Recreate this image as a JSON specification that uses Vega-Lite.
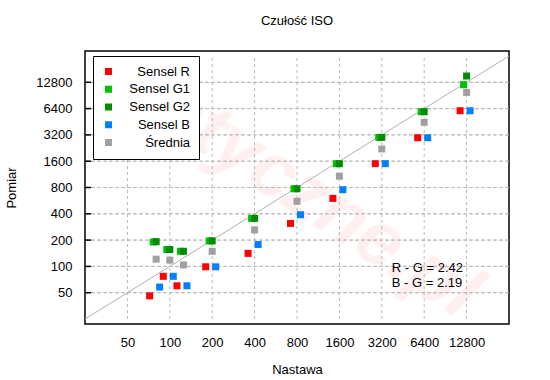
{
  "$schema": "https://vega.github.io/schema/vega-lite/v6.json",
  "width": 424,
  "height": 273,
  "autosize": "none",
  "padding": {"left": 85, "top": 51, "right": 41, "bottom": 56},
  "background": "white",
  "title": {"text": "Czułość ISO", "font": "Liberation Sans", "fontSize": 13, "fontWeight": "normal", "color": "black", "offset": 14},
  "config": {
    "view": {"stroke": "black", "strokeWidth": 1.5},
    "font": "Liberation Sans"
  },
  "resolve": {"scale": {"x": "independent"}, "axis": {"x": "independent"}},
  "datasets": {
    "pts": [
      {"iso": 80, "val": 46, "s": "Sensel R"},
      {"iso": 100, "val": 77, "s": "Sensel R"},
      {"iso": 125, "val": 60, "s": "Sensel R"},
      {"iso": 200, "val": 99, "s": "Sensel R"},
      {"iso": 400, "val": 141, "s": "Sensel R"},
      {"iso": 800, "val": 310, "s": "Sensel R"},
      {"iso": 1600, "val": 600, "s": "Sensel R"},
      {"iso": 3200, "val": 1500, "s": "Sensel R"},
      {"iso": 6400, "val": 2970, "s": "Sensel R"},
      {"iso": 12800, "val": 6050, "s": "Sensel R"},
      {"iso": 80, "val": 190, "s": "Sensel G1"},
      {"iso": 100, "val": 156, "s": "Sensel G1"},
      {"iso": 125, "val": 149, "s": "Sensel G1"},
      {"iso": 200, "val": 196, "s": "Sensel G1"},
      {"iso": 400, "val": 355, "s": "Sensel G1"},
      {"iso": 800, "val": 774, "s": "Sensel G1"},
      {"iso": 1600, "val": 1498, "s": "Sensel G1"},
      {"iso": 3200, "val": 2996, "s": "Sensel G1"},
      {"iso": 6400, "val": 5900, "s": "Sensel G1"},
      {"iso": 12800, "val": 12015, "s": "Sensel G1"},
      {"iso": 80, "val": 192, "s": "Sensel G2"},
      {"iso": 100, "val": 156, "s": "Sensel G2"},
      {"iso": 125, "val": 149, "s": "Sensel G2"},
      {"iso": 200, "val": 196, "s": "Sensel G2"},
      {"iso": 400, "val": 355, "s": "Sensel G2"},
      {"iso": 800, "val": 774, "s": "Sensel G2"},
      {"iso": 1600, "val": 1498, "s": "Sensel G2"},
      {"iso": 3200, "val": 2996, "s": "Sensel G2"},
      {"iso": 6400, "val": 5900, "s": "Sensel G2"},
      {"iso": 12800, "val": 15100, "s": "Sensel G2"},
      {"iso": 80, "val": 58, "s": "Sensel B"},
      {"iso": 100, "val": 77, "s": "Sensel B"},
      {"iso": 125, "val": 60, "s": "Sensel B"},
      {"iso": 200, "val": 99, "s": "Sensel B"},
      {"iso": 400, "val": 178, "s": "Sensel B"},
      {"iso": 800, "val": 390, "s": "Sensel B"},
      {"iso": 1600, "val": 755, "s": "Sensel B"},
      {"iso": 3200, "val": 1500, "s": "Sensel B"},
      {"iso": 6400, "val": 2970, "s": "Sensel B"},
      {"iso": 12800, "val": 6050, "s": "Sensel B"},
      {"iso": 80, "val": 121, "s": "Średnia"},
      {"iso": 100, "val": 118, "s": "Średnia"},
      {"iso": 125, "val": 104, "s": "Średnia"},
      {"iso": 200, "val": 149, "s": "Średnia"},
      {"iso": 400, "val": 262, "s": "Średnia"},
      {"iso": 800, "val": 556, "s": "Średnia"},
      {"iso": 1600, "val": 1077, "s": "Średnia"},
      {"iso": 3200, "val": 2208, "s": "Średnia"},
      {"iso": 6400, "val": 4463, "s": "Średnia"},
      {"iso": 12800, "val": 9805, "s": "Średnia"}
    ],
    "diag": [{"iso": 25, "val": 25}, {"iso": 25600, "val": 25600}],
    "gridv": [
      {"g": "x50", "iso": 50, "val": 25}, {"g": "x50", "iso": 50, "val": 25600},
      {"g": "x100", "iso": 100, "val": 25}, {"g": "x100", "iso": 100, "val": 25600},
      {"g": "x200", "iso": 200, "val": 25}, {"g": "x200", "iso": 200, "val": 25600},
      {"g": "x400", "iso": 400, "val": 25}, {"g": "x400", "iso": 400, "val": 25600},
      {"g": "x800", "iso": 800, "val": 25}, {"g": "x800", "iso": 800, "val": 25600},
      {"g": "x1600", "iso": 1600, "val": 25}, {"g": "x1600", "iso": 1600, "val": 25600},
      {"g": "x3200", "iso": 3200, "val": 25}, {"g": "x3200", "iso": 3200, "val": 25600},
      {"g": "x6400", "iso": 6400, "val": 25}, {"g": "x6400", "iso": 6400, "val": 25600},
      {"g": "x12800", "iso": 12800, "val": 25}, {"g": "x12800", "iso": 12800, "val": 25600}
    ],
    "gridh": [
      {"g": "y50", "iso": 25, "val": 50}, {"g": "y50", "iso": 25600, "val": 50},
      {"g": "y100", "iso": 25, "val": 100}, {"g": "y100", "iso": 25600, "val": 100},
      {"g": "y200", "iso": 25, "val": 200}, {"g": "y200", "iso": 25600, "val": 200},
      {"g": "y400", "iso": 25, "val": 400}, {"g": "y400", "iso": 25600, "val": 400},
      {"g": "y800", "iso": 25, "val": 800}, {"g": "y800", "iso": 25600, "val": 800},
      {"g": "y1600", "iso": 25, "val": 1600}, {"g": "y1600", "iso": 25600, "val": 1600},
      {"g": "y3200", "iso": 25, "val": 3200}, {"g": "y3200", "iso": 25600, "val": 3200},
      {"g": "y6400", "iso": 25, "val": 6400}, {"g": "y6400", "iso": 25600, "val": 6400},
      {"g": "y12800", "iso": 25, "val": 12800}, {"g": "y12800", "iso": 25600, "val": 12800}
    ],
    "tx": [{"iso": 50}, {"iso": 100}, {"iso": 200}, {"iso": 400}, {"iso": 800}, {"iso": 1600}, {"iso": 3200}, {"iso": 6400}, {"iso": 12800}],
    "ty": [{"val": 50}, {"val": 100}, {"val": 200}, {"val": 400}, {"val": 800}, {"val": 1600}, {"val": 3200}, {"val": 6400}, {"val": 12800}],
    "notes": [
      {"iso": 3770, "val": 95, "txt": "R - G = 2.42"},
      {"iso": 3770, "val": 65, "txt": "B - G = 2.19"}
    ],
    "wm": [{"iso": 800, "val": 800, "txt": "optyczne.pl"}]
  },
  "encoding": {
    "y": {
      "field": "val", "type": "quantitative",
      "scale": {"type": "log", "base": 2, "domain": [25, 25600], "nice": false},
      "axis": {
        "values": [50, 100, 200, 400, 800, 1600, 3200, 6400, 12800], "format": "d", "title": "Pomiar",
        "grid": false, "ticks": false, "domain": false,
        "labelFont": "Liberation Sans", "labelFontSize": 13, "labelColor": "black", "labelPadding": 13, "labelOverlap": false,
        "titleFont": "Liberation Sans", "titleFontSize": 13, "titleFontWeight": "normal", "titleColor": "black", "titlePadding": 17
      }
    }
  },
  "layer": [
    {
      "data": {"name": "wm"},
      "mark": {"type": "text", "font": "Liberation Sans", "fontSize": 76, "fontWeight": "bold", "fontStyle": "italic", "color": "#ff0000", "opacity": 0.06, "angle": 33, "align": "center", "baseline": "middle"},
      "encoding": {
        "x": {"field": "iso", "type": "quantitative", "scale": {"type": "log", "base": 2, "domain": [25, 25600], "nice": false},
          "axis": {
            "values": [50, 100, 200, 400, 800, 1600, 3200, 6400, 12800], "format": "d", "title": "Nastawa",
            "domain": false, "grid": false, "ticks": false,
            "labelFont": "Liberation Sans", "labelFontSize": 13, "labelColor": "black", "labelPadding": 12, "labelOverlap": false, "labelFlush": false,
            "titleFont": "Liberation Sans", "titleFontSize": 13, "titleFontWeight": "normal", "titleColor": "black", "titlePadding": 14
          }
        },
        "text": {"field": "txt"}
      }
    },
    {
      "data": {"name": "gridv"},
      "mark": {"type": "line", "color": "#b8b8b8", "strokeWidth": 1, "strokeDash": [3, 3]},
      "encoding": {
        "x": {"field": "iso", "type": "quantitative", "scale": {"type": "log", "base": 2, "domain": [25, 25600], "nice": false}, "axis": null},
        "detail": {"field": "g", "type": "nominal"},
        "order": {"field": "val", "type": "quantitative"}
      }
    },
    {
      "data": {"name": "gridh"},
      "mark": {"type": "line", "color": "#b8b8b8", "strokeWidth": 1, "strokeDash": [3, 3]},
      "encoding": {
        "x": {"field": "iso", "type": "quantitative", "scale": {"type": "log", "base": 2, "domain": [25, 25600], "nice": false}, "axis": null},
        "detail": {"field": "g", "type": "nominal"}
      }
    },
    {
      "data": {"name": "ty"},
      "mark": {"type": "rule", "color": "#b8b8b8", "strokeWidth": 1, "strokeDash": [3, 3]},
      "encoding": {}
    },
    {
      "data": {"name": "tx"},
      "mark": {"type": "bar", "color": "black", "width": 1.5, "opacity": 1},
      "encoding": {
        "x": {"field": "iso", "type": "quantitative", "scale": {"type": "log", "base": 2, "domain": [25, 25600], "nice": false}, "axis": null},
        "y": {"datum": 25},
        "y2": {"datum": 28.4}
      }
    },
    {
      "data": {"name": "ty"},
      "mark": {"type": "bar", "color": "black", "height": 1.5, "orient": "horizontal", "opacity": 1},
      "encoding": {
        "x": {"datum": 25, "scale": {"type": "log", "base": 2, "domain": [25, 25600], "nice": false}, "axis": null},
        "x2": {"datum": 27.6}
      }
    },
    {
      "data": {"name": "diag"},
      "mark": {"type": "line", "color": "#b0b0b0", "strokeWidth": 1},
      "encoding": {
        "x": {"field": "iso", "type": "quantitative", "scale": {"type": "log", "base": 2, "domain": [25, 25600], "nice": false}, "axis": null}
      }
    },
    {
      "data": {"name": "pts"},
      "transform": [{"filter": "datum.s === 'Sensel R'"}],
      "mark": {"type": "square", "size": 49, "opacity": 1},
      "encoding": {
        "x": {"field": "iso", "type": "quantitative", "scale": {"type": "log", "base": 2, "domain": [27.8, 28473], "nice": false}, "axis": null},
        "color": {
          "field": "s", "type": "nominal",
          "scale": {"domain": ["Sensel R", "Sensel G1", "Sensel G2", "Sensel B", "Średnia"], "range": ["#ff0000", "#00c000", "#008c00", "#0080ff", "#a0a0a0"]},
          "legend": {
            "title": null, "orient": "none", "legendX": 8, "legendY": 5,
            "strokeColor": "black", "fillColor": "white", "padding": 9,
            "symbolType": "square", "symbolSize": 49, "symbolStrokeWidth": 0, "symbolOpacity": 1,
            "labelAlign": "right", "labelOffset": 75, "labelFont": "Liberation Sans", "labelFontSize": 13, "labelColor": "black",
            "rowPadding": 3.75
          }
        }
      }
    },
    {
      "data": {"name": "pts"},
      "transform": [{"filter": "datum.s === 'Sensel G1'"}],
      "mark": {"type": "square", "size": 49, "opacity": 1},
      "encoding": {
        "x": {"field": "iso", "type": "quantitative", "scale": {"type": "log", "base": 2, "domain": [26.26, 26888], "nice": false}, "axis": null},
        "color": {"field": "s", "type": "nominal"}
      }
    },
    {
      "data": {"name": "pts"},
      "transform": [{"filter": "datum.s === 'Sensel G2'"}],
      "mark": {"type": "square", "size": 49, "opacity": 1},
      "encoding": {
        "x": {"field": "iso", "type": "quantitative", "scale": {"type": "log", "base": 2, "domain": [25, 25600], "nice": false}, "axis": null},
        "color": {"field": "s", "type": "nominal"}
      }
    },
    {
      "data": {"name": "pts"},
      "transform": [{"filter": "datum.s === 'Sensel B'"}],
      "mark": {"type": "square", "size": 49, "opacity": 1},
      "encoding": {
        "x": {"field": "iso", "type": "quantitative", "scale": {"type": "log", "base": 2, "domain": [23.61, 24177], "nice": false}, "axis": null},
        "color": {"field": "s", "type": "nominal"}
      }
    },
    {
      "data": {"name": "pts"},
      "transform": [{"filter": "datum.s === 'Średnia'"}],
      "mark": {"type": "square", "size": 49, "opacity": 1},
      "encoding": {
        "x": {"field": "iso", "type": "quantitative", "scale": {"type": "log", "base": 2, "domain": [25, 25600], "nice": false}, "axis": null},
        "color": {"field": "s", "type": "nominal"}
      }
    },
    {
      "data": {"name": "notes"},
      "mark": {"type": "text", "align": "left", "baseline": "middle", "font": "Liberation Sans", "fontSize": 13, "color": "black"},
      "encoding": {
        "x": {"field": "iso", "type": "quantitative", "scale": {"type": "log", "base": 2, "domain": [25, 25600], "nice": false}, "axis": null},
        "text": {"field": "txt"}
      }
    }
  ]
}
